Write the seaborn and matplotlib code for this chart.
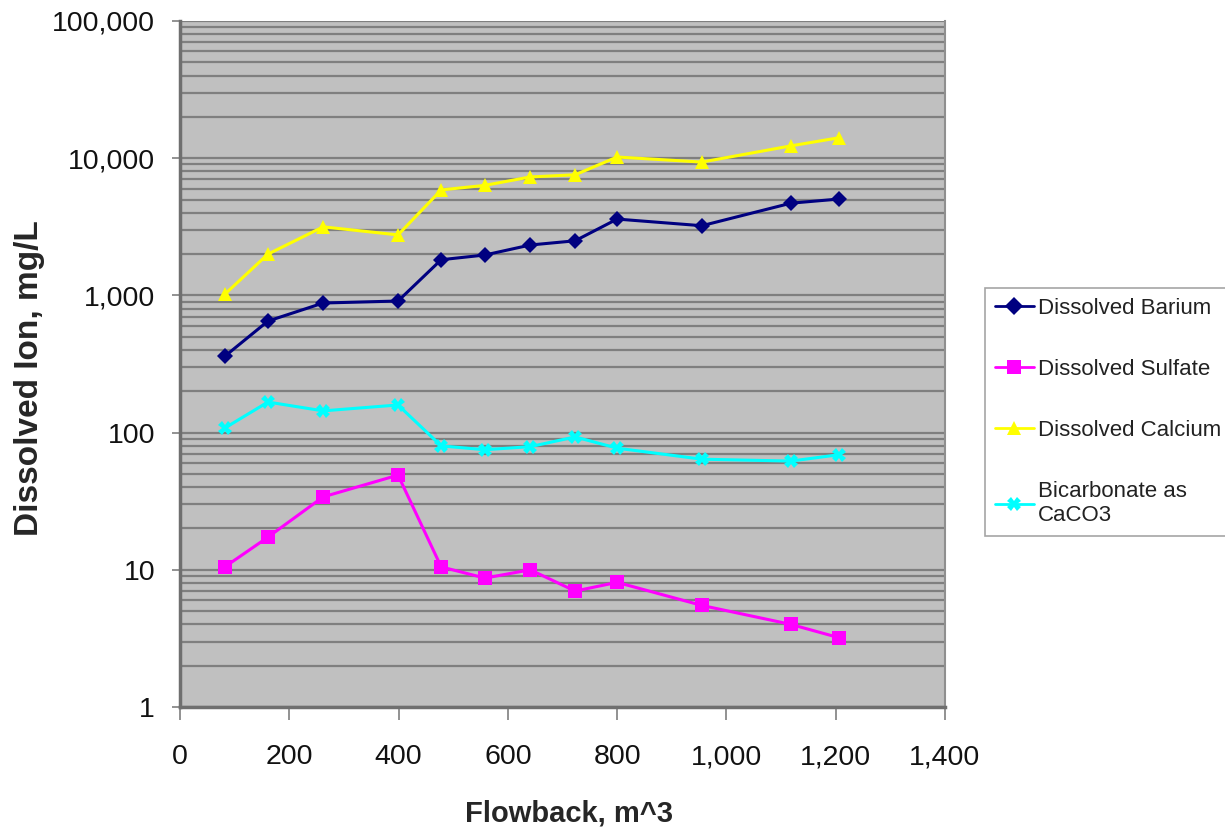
import matplotlib
matplotlib.use("Agg")
import matplotlib.pyplot as plt
import matplotlib.ticker as mticker
from matplotlib.lines import Line2D
import numpy as np
import pandas as pd
import seaborn as sns

# ---- data ----
flowback = [82, 161, 262, 399, 478, 558, 641, 723, 800, 955, 1118, 1206]
barium = [360, 650, 880, 910, 1820, 1970, 2330, 2500, 3600, 3220, 4700, 5040]
sulfate = [10.5, 17.3, 34, 49, 10.5, 8.7, 10, 7.0, 8.1, 5.5, 4.0, 3.2]
calcium = [1020, 2000, 3160, 2760, 5870, 6340, 7300, 7570, 10200, 9370, 12300, 14100]
bicarbonate = [108, 167, 144, 159, 80, 75, 79, 93, 77, 64, 62, 69]

series_names = ["Dissolved Barium", "Dissolved Sulfate", "Dissolved Calcium",
                "Bicarbonate as\nCaCO3"]
series_values = [barium, sulfate, calcium, bicarbonate]
colors = ["#000080", "#FF00FF", "#FFFF00", "#00FFFF"]
markers = ["D", "s", "^", "X"]

x_ticks = [0, 200, 400, 600, 800, 1000, 1200, 1400]
y_ticks = [1, 10, 100, 1000, 10000, 100000]

df = pd.DataFrame({
    "Flowback": flowback * len(series_names),
    "Value": sum(series_values, []),
    "Series": sum([[n] * len(flowback) for n in series_names], []),
})

sns.set_theme(style="white")
plt.rcParams["font.family"] = ["Liberation Sans", "DejaVu Sans"]

fig = plt.figure(figsize=(12.25, 8.36), dpi=100)
ax = fig.add_axes([180 / 1225, 1 - 707 / 836, 765 / 1225, 686 / 836])
ax.set_facecolor("#C0C0C0")

ax.set_yscale("log")
ax.set_xlim(0, 1400)
ax.set_ylim(1, 100000)

# horizontal gridlines at major + minor log positions
ax.yaxis.set_minor_locator(mticker.LogLocator(base=10, subs=np.arange(2, 10)))
ax.grid(True, axis="y", which="both", color="#7F7F7F", linewidth=1.6)
ax.grid(False, axis="x")
ax.set_axisbelow(True)

sns.lineplot(data=df, x="Flowback", y="Value", hue="Series", style="Series",
             palette=dict(zip(series_names, colors)),
             markers=dict(zip(series_names, markers)),
             dashes=False, linewidth=2.2, markersize=10,
             markeredgewidth=0, ax=ax, legend=False, sort=False)

for line, m in zip(ax.get_lines(), markers):
    if m == "D":
        line.set_markersize(8.5)

ax.set_xticks(x_ticks)
ax.set_yticks(y_ticks)
ax.xaxis.set_major_formatter(mticker.FuncFormatter(lambda v, p: f"{int(v):,}"))
ax.yaxis.set_major_formatter(mticker.FuncFormatter(lambda v, p: f"{int(round(v)):,}"))
ax.yaxis.set_minor_formatter(mticker.NullFormatter())
ax.tick_params(axis="y", which="major", direction="out", length=6, width=1.2,
               color="#7F7F7F", labelsize=20.5, pad=12, left=True)
ax.tick_params(axis="y", which="minor", length=0)
ax.tick_params(axis="x", which="major", direction="out", length=9, width=1.2,
               color="#7F7F7F", labelsize=20.5, pad=18, bottom=True)
for lab in ax.get_xticklabels() + ax.get_yticklabels():
    lab.set_color("#111111")

for side in ["left", "bottom"]:
    ax.spines[side].set_color("#6F6F6F")
    ax.spines[side].set_linewidth(2.5)
ax.spines["right"].set_color("#8F8F8F")
ax.spines["right"].set_linewidth(1.5)
ax.spines["top"].set_visible(False)

ax.set_xlabel("Flowback, m^3", fontsize=21, fontweight="bold")
ax.set_ylabel("Dissolved Ion, mg/L", fontsize=24, fontweight="bold")
ax.xaxis.set_label_coords((569 - 180) / 765, (707 - 800) / 686)
ax.yaxis.set_label_coords((45 - 180) / 765, (707 - 378) / 686)

# legend
handles = []
for name, c, m in zip(series_names, colors, markers):
    ms = 9 if m == "D" else 10
    handles.append(Line2D([], [], color=c, marker=m, markersize=ms,
                          markeredgewidth=0, linewidth=2.0))
leg = fig.legend(handles, series_names, loc="upper left",
                 bbox_to_anchor=(985 / 1225, 1 - 288 / 836),
                 frameon=True, fontsize=16, labelspacing=1.8,
                 handlelength=1.75, handletextpad=0.2, borderpad=0.45,
                 fancybox=False, borderaxespad=0)
leg.get_frame().set_edgecolor("#8F8F8F")
leg.get_frame().set_linewidth(1.2)
for t in leg.get_texts():
    t.set_color("#222222")

fig.savefig("out.png", dpi=100, facecolor="white")
